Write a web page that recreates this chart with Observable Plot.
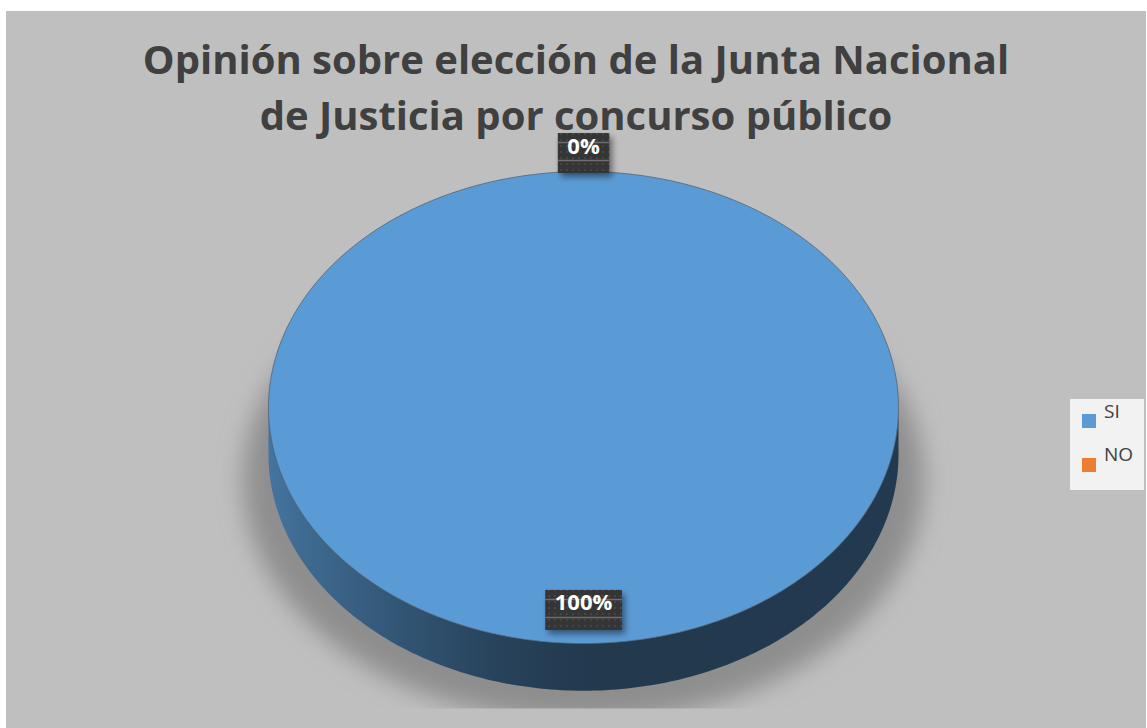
<!DOCTYPE html>
<html>
<head>
<meta charset="utf-8">
<script src="https://cdn.jsdelivr.net/npm/d3@7"></script>
<script src="https://cdn.jsdelivr.net/npm/@observablehq/plot@0.6"></script>
<style>
html, body { margin: 0; padding: 0; background: #ffffff; }
#frame { position: absolute; left: 6px; top: 11px; width: 1140px; height: 717px; background: #bfbfbf; overflow: hidden; font-family: "Open Sans", sans-serif; }
#title { position: absolute; left: 0; top: 19.5px; width: 1140px; text-align: center; font-weight: 700; font-size: 40px; line-height: 56px; color: #404040; white-space: nowrap; }
#chart { position: absolute; left: 0; top: 0; }
#legend { position: absolute; left: 1064px; top: 388px; width: 74px; height: 91px; background: #f2f2f2; }
.sw { position: absolute; left: 12px; width: 14px; height: 14px; }
.lt { position: absolute; left: 34px; font-size: 19px; line-height: 19px; color: #404040; }
</style>
</head>
<body>
<div id="frame">
  <div id="title">Opinión sobre elección de la Junta Nacional<br>de Justicia por concurso público</div>
  <div id="chart"></div>
  <div id="legend"></div>
</div>
<script>
// ---- data ----
const categories = ["SI", "NO"];
const values = [100, 0];
const colors = ["#5b9bd5", "#ed7d31"];

// ---- geometry helpers (layout, not data) ----
const total = d3.sum(values);
const rows = categories.map((c, i) => ({category: c, value: values[i], color: colors[i]}));
const arcs = d3.pie().sort(null).value(d => d.value).startAngle(0).endAngle(2 * Math.PI)(rows);
const depth = 0.2;
const step = Math.PI / 180;

const topPts = [];
const sidePts = [];
for (const a of arcs) {
  const span = a.endAngle - a.startAngle;
  if (span <= 0) continue;
  const cat = a.data.category;
  const n = Math.max(2, Math.ceil(span / step));
  if (span < 2 * Math.PI - 1e-9) topPts.push({category: cat, x: 0, y: 0});
  for (let k = 0; k <= n; k++) {
    const t = a.startAngle + span * k / n;
    topPts.push({category: cat, x: Math.sin(t), y: Math.cos(t)});
  }
  const s0 = Math.max(a.startAngle, Math.PI / 2), s1 = Math.min(a.endAngle, 3 * Math.PI / 2);
  if (s1 > s0) {
    const m = Math.max(2, Math.ceil((s1 - s0) / step));
    const up = [], down = [];
    for (let k = 0; k <= m; k++) {
      const t = s0 + (s1 - s0) * k / m;
      up.push({category: cat, x: Math.sin(t), y: Math.cos(t)});
      down.push({category: cat, x: Math.sin(t), y: Math.cos(t) - depth});
    }
    sidePts.push(...up, ...down.reverse());
  }
}

// soft shadow under the pie
const shadowPts = d3.range(0, 361, 2).map(deg => {
  const t = deg * Math.PI / 180;
  return {x: 1.08 * Math.sin(t), y: -0.31 + 1.02 * Math.cos(t)};
});

const fmt = d3.format(".0%");
const labels = arcs.map(a => {
  const mid = (a.startAngle + a.endAngle) / 2;
  const share = a.data.value / total;
  const r = share < 0.05 ? 1.106 : 0.83;
  return {category: a.data.category, label: fmt(share), x: r * Math.sin(mid), y: r * Math.cos(mid)};
});

const chart = Plot.plot({
  width: 1140,
  height: 717,
  margin: 0,
  x: {domain: [-1, 1], range: [262, 892], axis: null},
  y: {domain: [-1, 1], range: [632, 160], axis: null},
  color: {domain: categories, range: colors},
  style: {background: "transparent", overflow: "visible"},
  marks: [
    Plot.line(shadowPts, {x: "x", y: "y", fill: "#8e8e8e", stroke: "none", curve: "linear-closed", ariaDescription: "shadow"}),
    Plot.line(sidePts, {x: "x", y: "y", z: "category", fill: "category", stroke: "none", curve: "linear-closed", ariaDescription: "side"}),
    Plot.line(topPts, {x: "x", y: "y", z: "category", fill: "category", stroke: "#4a5a6c", strokeWidth: 0.7, curve: "linear-closed", ariaDescription: "top"}),
    Plot.text(labels, {x: "x", y: "y", text: "label", fill: "white", fontSize: 22, fontWeight: "bold", fontFamily: "Open Sans", ariaDescription: "labels"})
  ]
});
document.getElementById("chart").appendChild(chart);

// ---- decoration (gradients, shadow blur, label boxes) ----
const svg = d3.select(chart);
const defs = svg.insert("defs", ":first-child");

const blur = defs.append("filter").attr("id", "blur").attr("x", "-20%").attr("y", "-20%").attr("width", "140%").attr("height", "140%");
blur.append("feGaussianBlur").attr("stdDeviation", 12);
defs.append("clipPath").attr("id", "floor").append("rect").attr("x", 0).attr("y", 0).attr("width", 1140).attr("height", 697);
svg.selectAll('g[aria-description="shadow"] path').attr("filter", "url(#blur)").attr("clip-path", "url(#floor)");

const colorToIdx = new Map(colors.map((c, i) => [d3.color(c).formatHex(), i]));
colors.forEach((c, i) => {
  const g = defs.append("linearGradient").attr("id", "side" + i).attr("gradientUnits", "userSpaceOnUse")
    .attr("x1", 262).attr("x2", 892).attr("y1", 0).attr("y2", 0);
  [[0, 0.8], [0.05, 1.05], [0.21, 1.7], [0.37, 2.4], [0.51, 2.8], [1, 2.75]].forEach(([o, k]) => {
    g.append("stop").attr("offset", o).attr("stop-color", d3.color(c).darker(k).formatHex());
  });
});
svg.selectAll('g[aria-description="side"] path').each(function() {
  const f = d3.color(this.getAttribute("fill"));
  const idx = f ? colorToIdx.get(f.formatHex()) : undefined;
  if (idx !== undefined) this.setAttribute("fill", `url(#side${idx})`);
});

const pat = defs.append("pattern").attr("id", "dots").attr("patternUnits", "userSpaceOnUse").attr("width", 6).attr("height", 6);
pat.append("rect").attr("width", 6).attr("height", 6).attr("fill", "#343434");
pat.append("circle").attr("cx", 3).attr("cy", 3).attr("r", 0.9).attr("fill", "#4c4c4c");
const ds = defs.append("filter").attr("id", "boxshadow").attr("x", "-20%").attr("y", "-20%").attr("width", "150%").attr("height", "160%");
ds.append("feDropShadow").attr("dx", 3).attr("dy", 4).attr("stdDeviation", 3).attr("flood-color", "#000").attr("flood-opacity", 0.45);

const labelG = svg.select('g[aria-description="labels"]');
const boxG = svg.insert("g", 'g[aria-description="labels"]').attr("aria-label", "label boxes");
const svgCTM = chart.getScreenCTM().inverse();
labelG.selectAll("text").each(function() {
  const b = this.getBBox();
  const m = svgCTM.multiply(this.getScreenCTM());
  const bx = b.x + m.e, by = b.y + m.f;
  const baseline = by + 1.069 * 22;
  const top = baseline - 20;
  const x0 = bx - 9.5, w = b.width + 19;
  boxG.append("rect").attr("x", x0).attr("y", top).attr("width", w).attr("height", 40)
    .attr("fill", "url(#dots)").attr("filter", "url(#boxshadow)");
  [9.5, 27.5].forEach(dy => {
    boxG.append("line").attr("x1", x0).attr("x2", x0 + w).attr("y1", top + dy).attr("y2", top + dy)
      .attr("stroke", "#6e6e6e").attr("stroke-width", 1.6);
  });
});

// ---- legend ----
const legend = d3.select("#legend");
categories.forEach((c, i) => {
  legend.append("div").attr("class", "sw").style("top", (15 + i * 44) + "px").style("background", colors[i]);
  legend.append("div").attr("class", "lt").style("top", (3 + i * 43) + "px").text(c);
});
</script>
</body>
</html>
